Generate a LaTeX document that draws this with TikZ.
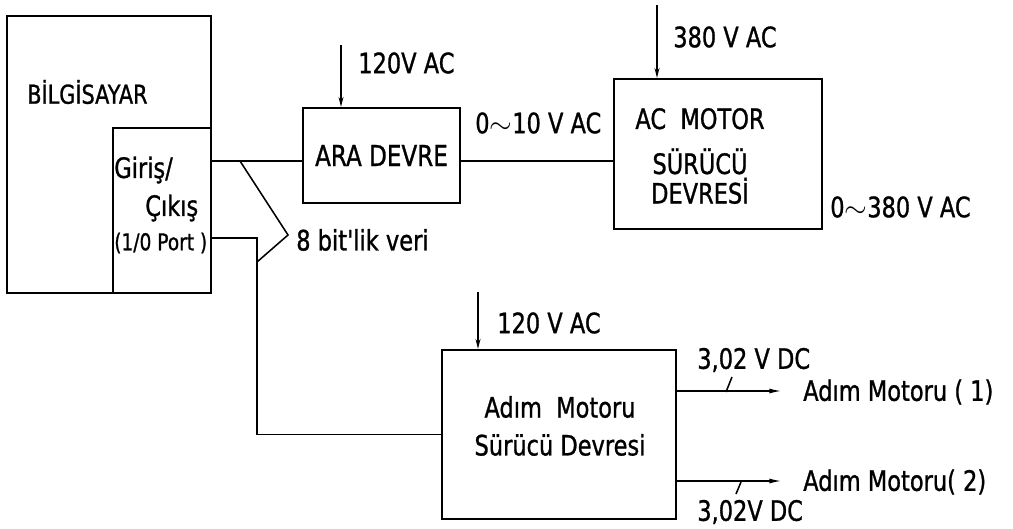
\documentclass[tikz,border=0pt]{standalone}
\usepackage{fontspec}
\setmainfont{DejaVu Sans}
\newfontfamily\darfont{DejaVu Sans}[FakeStretch=0.8,FakeBold=1]
\usetikzlibrary{arrows.meta}
\tikzset{
  blok/.style={draw, line width=1.6pt, inner sep=0pt},
  yazi/.style={inner sep=0pt, anchor=west, font=\darfont\fontsize{20}{22}\selectfont},
  hat/.style={line width=1.1pt},
  giris ok/.style={hat, -{Stealth[length=7pt,width=3.5pt]}},
  cikis ok/.style={hat, -{Latex[length=9pt,width=3.5pt]}},
}
\begin{document}
\begin{tikzpicture}[x=0.025cm, y=-0.025cm]
    \useasboundingbox (0,0) rectangle (1013,528);
    % Bilgisayar ve port
    \node[blok, minimum width=5.1cm, minimum height=6.925cm] (pc) at (109,154.5) {};
    \node[blok, minimum width=2.45cm, minimum height=4.125cm] (port) at (162,210.5) {};
    \node[yazi, font=\darfont\fontsize{18.5}{20}\selectfont] (pcad) at (27,92) {BİLGİSAYAR};
    \node[yazi] (giris) at (114,170) {Giriş/};
    \node[yazi] (cikis) at (145,208) {Çıkış};
    \node[yazi, font=\darfont\fontsize{16.5}{18}\selectfont] (portad) at (114,243) {(1/0 Port )};
    % Devre bloklari
    \node[blok, minimum width=3.925cm, minimum height=2.375cm, font=\darfont\fontsize{20.5}{22}\selectfont] (ara) at (381.5,155.5) {ARA DEVRE};
    \node[blok, minimum width=5.2cm, minimum height=3.75cm] (acm) at (718,154) {};
    \node[align=center, inner sep=0pt, font=\darfont\fontsize{20}{21}\selectfont] (acmad) at (700,156) {AC\ \ MOTOR\\[11pt] SÜRÜCÜ\\ DEVRESİ};
    \node[blok, minimum width=5.85cm, minimum height=4.225cm] (adim) at (559,434.5) {};
    \node[align=center, inner sep=0pt, font=\darfont\fontsize{20}{27}\selectfont] (adimad) at (560,426) {Adım\ \ Motoru\\ Sürücü Devresi};
    % Besleme girisleri
    \coordinate (g1) at (341,45);
    \draw[giris ok] (g1) -- (g1 |- ara.north);
    \node[yazi] (g1ad) at (358,63) {120V AC};
    \coordinate (g2) at (657,5);
    \draw[giris ok] (g2) -- (g2 |- acm.north);
    \node[yazi] (g2ad) at (673,37) {380 V AC};
    \coordinate (g3) at (478,292);
    \draw[giris ok] (g3) -- (g3 |- adim.north);
    \node[yazi] (g3ad) at (497,323) {120 V AC};
    % Baglantilar
    \coordinate (veri) at (240,161);
    \draw[hat] (port.east |- veri) -- (veri -| ara.west);
    \draw[hat] (ara.east |- veri) -- (veri -| acm.west);
    \coordinate (kirik) at (257,238);
    \draw[hat] (port.east |- kirik) -- (kirik) |- (adim.west);
    \coordinate (uc) at (288,235);
    \draw[hat] (veri) -- (uc) -- (257,262);
    \node[yazi] (veriad) at (296,240) {8 bit'lik veri};
    \node[yazi] (araad) at (475,123) {0$\sim$10 V AC};
    \node[yazi] (acmcik) at (830,207) {0$\sim$380 V AC};
    % Adim motoru cikislari
    \coordinate (m1) at (782,391);
    \draw[cikis ok] (adim.east |- m1) -- (m1);
    \draw[hat] (726,392) -- (732,377);
    \node[yazi] (m1v) at (697,360) {3,02 V DC};
    \node[yazi] (m1ad) at (803,392) {Adım Motoru ( 1)};
    \coordinate (m2) at (782,481);
    \draw[cikis ok] (adim.east |- m2) -- (m2);
    \draw[hat] (741,482) -- (736,494);
    \node[yazi] (m2v) at (697,512) {3,02V DC};
    \node[yazi] (m2ad) at (803,482) {Adım Motoru( 2)};
\end{tikzpicture}
\end{document}
